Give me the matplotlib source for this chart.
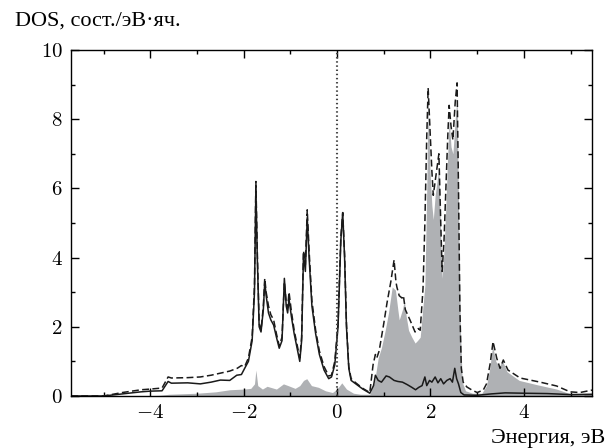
import matplotlib
matplotlib.use("Agg")
import matplotlib.pyplot as plt
from matplotlib.ticker import MultipleLocator

# solid line
e_solid = [-5.7, -5.0, -4.6, -4.2, -4.0, -3.75, -3.62, -3.55, -3.2, -2.93, -2.7, -2.5, -2.3,
           -2.15, -2.05, -1.98, -1.9, -1.82, -1.77, -1.74, -1.71, -1.67, -1.63, -1.58, -1.55,
           -1.52, -1.47, -1.42, -1.36, -1.3, -1.24, -1.18, -1.13, -1.09, -1.06, -1.03, -0.98,
           -0.92, -0.86, -0.8, -0.76, -0.72, -0.68, -0.64, -0.6, -0.54, -0.46, -0.38, -0.28,
           -0.18, -0.12, -0.05, 0.02, 0.08, 0.12, 0.16, 0.2, 0.25, 0.3, 0.4, 0.55, 0.7, 0.78,
           0.82, 0.88, 0.95, 1.05, 1.12, 1.22, 1.3, 1.4, 1.5, 1.6, 1.68, 1.75, 1.82, 1.88, 1.92,
           1.98, 2.03, 2.1, 2.16, 2.22, 2.28, 2.35, 2.42, 2.47, 2.52, 2.56, 2.6, 2.65, 2.72, 3.0,
           3.3, 3.6, 4.0, 4.5, 5.0, 5.46]
dos_solid = [0.0, 0.0, 0.06, 0.12, 0.14, 0.15, 0.42, 0.37, 0.38, 0.35, 0.4, 0.46, 0.45,
             0.6, 0.62, 0.8, 1.0, 1.6, 3.0, 6.0, 4.0, 2.0, 1.85, 2.5, 3.3,
             2.9, 2.4, 2.2, 2.05, 1.7, 1.38, 1.6, 3.4, 2.6, 2.4, 2.8, 2.3,
             1.8, 1.4, 1.0, 1.6, 4.1, 3.6, 5.15, 4.0, 2.6, 1.8, 1.2, 0.75,
             0.5, 0.55, 0.9, 2.0, 4.5, 5.3, 4.0, 2.0, 0.8, 0.45, 0.35, 0.2, 0.08, 0.3,
             0.6, 0.45, 0.4, 0.58, 0.55, 0.45, 0.42, 0.4, 0.33, 0.25, 0.18, 0.25, 0.3, 0.55, 0.3,
             0.45, 0.4, 0.55, 0.38, 0.5, 0.35, 0.45, 0.5, 0.4, 0.8, 0.5, 0.35, 0.1, 0.03, 0.02,
             0.06, 0.09, 0.08, 0.07, 0.04, 0.05]

# dashed line
e_dash = [-5.7, -5.0, -4.6, -4.2, -4.0, -3.75, -3.62, -3.55, -3.2, -2.93, -2.7, -2.5, -2.3,
          -2.14, -2.05, -1.98, -1.9, -1.82, -1.77, -1.74, -1.71, -1.67, -1.63, -1.58, -1.55,
          -1.52, -1.47, -1.42, -1.36, -1.3, -1.24, -1.18, -1.13, -1.09, -1.06, -1.03, -0.98,
          -0.92, -0.86, -0.8, -0.76, -0.72, -0.68, -0.64, -0.6, -0.54, -0.46, -0.38, -0.28,
          -0.18, -0.12, -0.05, 0.02, 0.08, 0.12, 0.16, 0.2, 0.25, 0.3, 0.4, 0.55, 0.7, 0.77,
          0.82, 0.85, 0.9, 1.0, 1.07, 1.15, 1.22, 1.26, 1.28, 1.33, 1.39, 1.42, 1.46, 1.56,
          1.67, 1.74, 1.78, 1.84, 1.88, 1.92, 1.95, 1.99, 2.03, 2.06, 2.1, 2.14, 2.18, 2.22,
          2.25, 2.29, 2.33, 2.37, 2.4, 2.44, 2.48, 2.53, 2.57, 2.6, 2.63, 2.66, 2.7, 2.78,
          2.89, 3.0, 3.13, 3.2, 3.28, 3.34, 3.42, 3.49, 3.56, 3.66, 3.92, 4.35, 4.7, 4.99,
          5.2, 5.46]
dos_dash = [0.0, 0.0, 0.1, 0.18, 0.2, 0.23, 0.55, 0.52, 0.53, 0.55, 0.6, 0.66, 0.72,
            0.8, 0.88, 0.85, 1.1, 1.7, 3.2, 6.2, 4.2, 2.1, 1.9, 2.6, 3.4,
            3.0, 2.6, 2.35, 2.2, 1.8, 1.45, 1.7, 3.3, 2.7, 2.55, 3.0, 2.45,
            1.9, 1.5, 1.1, 1.7, 4.2, 3.8, 5.38, 4.2, 2.75, 1.9, 1.3, 0.85,
            0.58, 0.6, 1.0, 2.1, 4.6, 5.3, 4.1, 2.1, 0.85, 0.5, 0.38, 0.22, 0.1, 0.9,
            1.2, 1.1, 1.3, 2.1, 2.7, 3.3, 3.93, 3.3, 3.15, 2.9, 2.83, 2.9, 2.5, 2.2,
            1.85, 1.95, 1.9, 3.1, 5.0, 7.5, 8.9, 7.7, 6.5, 5.8, 6.2, 6.6, 7.0, 5.0,
            3.6, 4.5, 6.0, 7.5, 8.4, 7.8, 7.4, 8.5, 9.05, 6.0, 2.5, 0.8, 0.4, 0.26,
            0.17, 0.1, 0.17, 0.35, 0.95, 1.57, 1.09, 0.8, 1.04, 0.75, 0.52, 0.4, 0.29, 0.12,
            0.1, 0.17]

# grey filled area
e_fill = [-5.7, -4.2, -3.8, -3.6, -3.0, -2.6, -2.3, -2.0, -1.85, -1.77, -1.74, -1.7, -1.6,
          -1.5, -1.3, -1.15, -1.05, -0.9, -0.8, -0.72, -0.65, -0.55, -0.4, -0.25, -0.1, 0.0,
          0.1, 0.2, 0.35, 0.5, 0.7, 0.8, 0.88, 0.95, 1.03, 1.1, 1.18, 1.25, 1.3, 1.33, 1.4,
          1.44, 1.48, 1.53, 1.6, 1.67, 1.72, 1.78, 1.84, 1.88, 1.92, 1.95, 1.99, 2.03, 2.06,
          2.1, 2.14, 2.18, 2.22, 2.25, 2.29, 2.33, 2.37, 2.4, 2.44, 2.48, 2.53, 2.57, 2.6,
          2.64, 2.68, 2.75, 2.9, 3.1, 3.2, 3.27, 3.33, 3.4, 3.47, 3.54, 3.64, 3.9, 4.3, 4.7,
          5.0, 5.46]
dos_fill = [0.0, 0.0, 0.02, 0.05, 0.08, 0.12, 0.18, 0.2, 0.22, 0.35, 0.75, 0.3, 0.2,
            0.28, 0.2, 0.35, 0.3, 0.22, 0.3, 0.45, 0.5, 0.3, 0.25, 0.15, 0.1, 0.2,
            0.38, 0.2, 0.08, 0.05, 0.05, 0.4, 1.1, 1.4, 1.9, 2.4, 3.15, 3.06, 2.5, 2.2, 2.5,
            2.77, 2.3, 1.9, 1.7, 1.53, 1.6, 1.7, 2.6, 3.2, 6.0, 8.5, 6.5, 5.5, 5.1,
            5.8, 6.2, 6.6, 4.5, 3.4, 4.2, 5.5, 7.0, 8.0, 7.2, 7.0, 8.0, 8.6, 5.5,
            2.0, 0.4, 0.15, 0.08, 0.08, 0.3, 0.8, 1.45, 1.0, 0.85, 1.02, 0.7, 0.45, 0.32, 0.2,
            0.06, 0.05]

x_ticks = [-4, -2, 0, 2, 4]
y_ticks = [0, 2, 4, 6, 8, 10]

plt.rcParams["font.family"] = ["Liberation Serif", "DejaVu Serif"]
plt.rcParams["mathtext.fontset"] = "cm"

fig = plt.figure(figsize=(6.08, 4.48), dpi=100)
ax = fig.add_axes([0.1168, 0.1161, 0.8569, 0.7723])

ax.fill_between(e_fill, dos_fill, 0, color="#afb1b4", linewidth=0)
ax.plot(e_dash, dos_dash, color="#1a1a1a", linewidth=1.1, dashes=(4.5, 2.2))
ax.plot(e_solid, dos_solid, color="#1a1a1a", linewidth=1.1)
ax.axvline(0, color="#444444", linewidth=1.5, linestyle=(0, (0.7, 1.3)))

ax.set_xlim(-5.7, 5.46)
ax.set_ylim(0, 10)
ax.set_xticks(x_ticks)
ax.set_yticks(y_ticks)
ax.set_xticklabels(["$%d$" % v for v in x_ticks])
ax.set_yticklabels(["$%d$" % v for v in y_ticks])
ax.xaxis.set_minor_locator(MultipleLocator(1))
ax.yaxis.set_minor_locator(MultipleLocator(1))
ax.tick_params(which="both", direction="in", top=True, right=True, labelsize=15, width=1.0)
ax.tick_params(which="major", length=6, pad=6)
ax.tick_params(which="minor", length=3)
for s in ax.spines.values():
    s.set_linewidth(1.0)

fig.text(0.025, 0.953, "DOS, сост./эВ·яч.", fontsize=16, ha="left", va="center")
fig.text(0.995, 0.012, "Энергия, эВ", fontsize=16, ha="right", va="baseline")

fig.savefig("out.png", dpi=100)
